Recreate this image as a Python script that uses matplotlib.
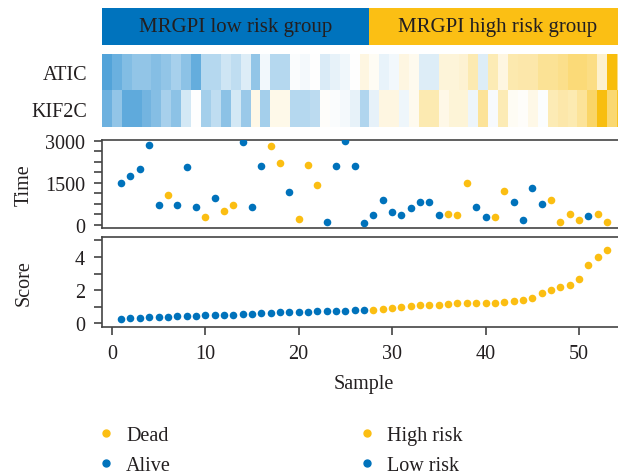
import numpy as np
import matplotlib
matplotlib.use("Agg")
import matplotlib.pyplot as plt
from matplotlib.colors import LinearSegmentedColormap
from matplotlib.lines import Line2D

plt.rcParams["font.family"] = ["Liberation Serif", "DejaVu Serif"]
plt.rcParams["font.size"] = 14.5
plt.rcParams["text.color"] = "#231f20"
plt.rcParams["axes.labelcolor"] = "#231f20"
plt.rcParams["xtick.color"] = "#231f20"
plt.rcParams["ytick.color"] = "#231f20"

blue = "#0072bb"
yellow = "#fbbe12"

# groups
group_names = ["MRGPI low risk group", "MRGPI high risk group"]
group_sizes = [27, 26]

# heatmap (scaled expression)
genes = ["ATIC", "KIF2C"]
atic = [-0.95, -0.82, -0.68, -0.6, -0.6, -0.67, -0.6, -0.48, -0.63, -0.85,
        -0.4, -0.4, -0.27, -0.35, -0.18, -0.6, -0.07, -0.4, -0.4, -0.03,
        -0.06, 0.0, -0.2, -0.13, -0.08, 0.0, 0.12, 0.04, -0.12, -0.07,
        0.12, 0.07, -0.18, -0.18, 0.15, 0.15, 0.18, 0.32, -0.18, 0.3,
        0.12, 0.33, 0.35, 0.35, 0.43, 0.43, 0.47, 0.55, 0.55, 0.5,
        0.2, 1.0, 0.5]
kif2c = [-0.8, -0.6, -0.88, -0.88, -0.77, -0.67, -0.48, -0.63, -0.24, 0.0,
         -0.5, -0.35, -0.63, -0.24, -0.55, 0.1, -0.5, 0.09, 0.09, -0.4,
         -0.4, -0.36, 0.02, -0.03, -0.06, -0.13, -0.43, -0.14, 0.12, 0.12,
         -0.09, 0.07, 0.32, 0.32, 0.1, 0.16, 0.16, -0.1, 0.42, -0.04,
         0.3, 0.04, 0.02, 0.1, -0.02, 0.3, 0.35, 0.32, 0.42, 0.62,
         0.98, 0.58, 0.9]

# survival
time = [1476, 1738, 1976, 2845, 714, 1060, 714, 2071, 631, 262,
        964, 500, 702, 2952, 619, 2095, 2810, 2190, 1179, 214,
        2119, 1405, 95, 2083, 2988, 2107, 60, 345, 881, 440,
        357, 583, 810, 810, 357, 369, 357, 1476, 619, 274,
        274, 1190, 810, 179, 1298, 750, 881, 83, 369, 167,
        321, 369, 95]
dead = [0, 0, 0, 0, 0, 1, 0, 0, 0, 1,
        0, 1, 1, 0, 0, 0, 1, 1, 0, 1,
        1, 1, 0, 0, 0, 0, 0, 0, 0, 0,
        0, 0, 0, 0, 0, 1, 1, 1, 0, 0,
        1, 1, 0, 0, 0, 0, 1, 1, 1, 1,
        0, 1, 1]

# risk score (sorted)
score = [0.26, 0.34, 0.34, 0.36, 0.36, 0.38, 0.44, 0.44, 0.46, 0.48,
         0.48, 0.52, 0.52, 0.56, 0.56, 0.62, 0.64, 0.68, 0.68, 0.70,
         0.70, 0.74, 0.74, 0.74, 0.76, 0.80, 0.82, 0.82, 0.86, 0.92,
         0.98, 1.02, 1.08, 1.10, 1.12, 1.18, 1.20, 1.20, 1.20, 1.22,
         1.22, 1.28, 1.34, 1.40, 1.52, 1.81, 2.01, 2.19, 2.33, 2.67,
         3.54, 4.02, 4.44]

sample = np.arange(1, len(score) + 1)
n_low = group_sizes[0]

W, H = 618, 477
fig = plt.figure(figsize=(W / 100, H / 100), dpi=100)

left_px, right_px = 101.7, 626.4


def rect(top, bottom):
    return [left_px / W, 1 - bottom / H, (right_px - left_px) / W, (bottom - top) / H]


# group bar
ax0 = fig.add_axes(rect(9, 46))
ax0.barh(0, group_sizes[0], left=0, height=1, color="#0073bd")
ax0.barh(0, group_sizes[1], left=group_sizes[0], height=1, color="#fbbf14")
ax0.text(group_sizes[0] / 2, 0, group_names[0], ha="center", va="center", fontsize=15)
ax0.text(group_sizes[0] + group_sizes[1] / 2, 0, group_names[1], ha="center", va="center", fontsize=15)
ax0.set_xlim(0, sum(group_sizes))
ax0.set_ylim(-0.5, 0.5)
ax0.axis("off")

# heatmap
cmap = LinearSegmentedColormap.from_list("by", ["#4a9fd8", "#ffffff", "#f8bd0c"])
ax1 = fig.add_axes(rect(55, 128))
ax1.imshow(np.array([atic, kif2c]), aspect="auto", cmap=cmap, vmin=-1, vmax=1,
           interpolation="nearest")
ax1.set_yticks([0, 1])
ax1.set_yticklabels(genes)
ax1.set_xticks([])
ax1.tick_params(axis="y", length=0, pad=10)
for s in ax1.spines.values():
    s.set_visible(False)

# time
dead = np.array(dead)
time = np.array(time)
ax2 = fig.add_axes(rect(140.7, 228.7))
ax2.scatter(sample[dead == 1], time[dead == 1], s=30, color=yellow, zorder=3, linewidths=0)
ax2.scatter(sample[dead == 0], time[dead == 0], s=30, color=blue, zorder=3, linewidths=0)
ax2.set_xlim(-1.08, 55.08)
ax2.set_ylim(-107, 3036)
ax2.set_yticks([0, 1500, 3000])
ax2.set_yticks(np.arange(0, 3001, 375), minor=True)
ax2.set_xticks([])
ax2.set_ylabel("Time")
ax2.yaxis.set_label_coords(-0.13, 0.5)

# score
score = np.array(score)
ax3 = fig.add_axes(rect(237.5, 328.3))
ax3.scatter(sample[sample > n_low], score[sample > n_low], s=30, color=yellow, zorder=3, linewidths=0)
ax3.scatter(sample[sample <= n_low], score[sample <= n_low], s=30, color=blue, zorder=3, linewidths=0)
ax3.set_xlim(-1.08, 55.08)
ax3.set_ylim(-0.24, 5.23)
ax3.set_yticks([0, 2, 4])
ax3.set_yticks([1, 3, 5], minor=True)
ax3.set_xticks([0, 10, 20, 30, 40, 50])
ax3.set_xlabel("Sample", labelpad=8)
ax3.set_ylabel("Score")
ax3.yaxis.set_label_coords(-0.13, 0.5)

for ax in (ax2, ax3):
    for s in ax.spines.values():
        s.set_color("#444444")
        s.set_linewidth(1.2)
    ax.tick_params(which="both", length=6, width=1.1, color="#333333", pad=6)

# legends
h_dead = Line2D([], [], marker="o", ls="", color=yellow, ms=5)
h_alive = Line2D([], [], marker="o", ls="", color=blue, ms=5)
fig.legend([h_dead, h_alive], ["Dead", "Alive"], loc="upper left",
           bbox_to_anchor=(96 / W, 1 - 427 / H), frameon=False, handlelength=1,
           handletextpad=0.5, labelspacing=0.55, borderpad=0, borderaxespad=0)
fig.legend([h_dead, h_alive], ["High risk", "Low risk"], loc="upper left",
           bbox_to_anchor=(357 / W, 1 - 427 / H), frameon=False, handlelength=1,
           handletextpad=0.5, labelspacing=0.55, borderpad=0, borderaxespad=0)

plt.savefig("out.png", dpi=100)
